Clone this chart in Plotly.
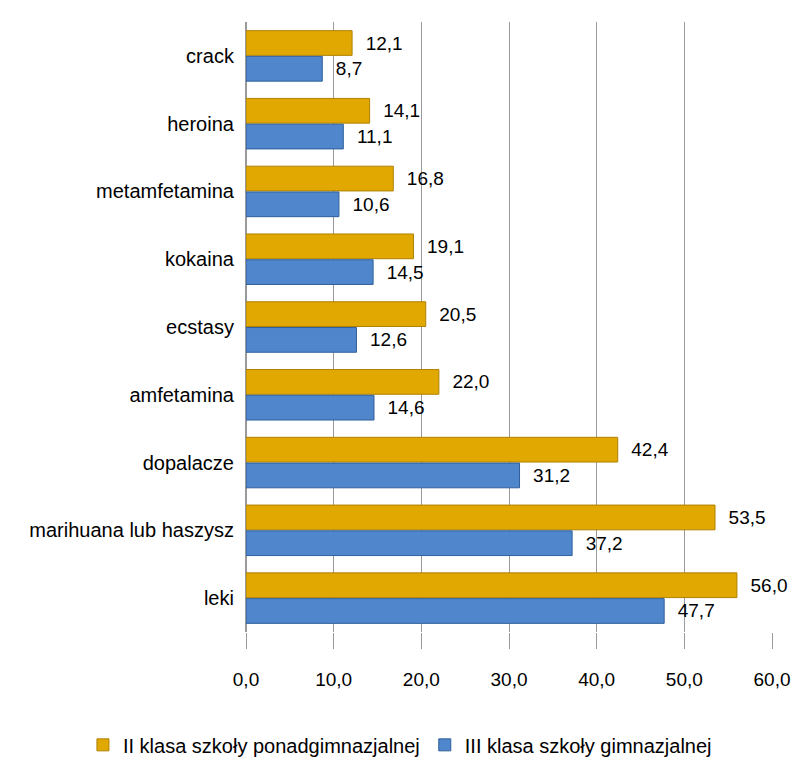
import plotly.graph_objects as go

categories = ["crack", "heroina", "metamfetamina", "kokaina", "ecstasy",
              "amfetamina", "dopalacze", "marihuana lub haszysz", "leki"]
series_names = ["II klasa szkoły ponadgimnazjalnej", "III klasa szkoły gimnazjalnej"]
values_ii = [12.1, 14.1, 16.8, 19.1, 20.5, 22.0, 42.4, 53.5, 56.0]
values_iii = [8.7, 11.1, 10.6, 14.5, 12.6, 14.6, 31.2, 37.2, 47.7]
tick_values = [0, 10, 20, 30, 40, 50, 60]

def fmt(v):
    return "\u00a0\u00a0" + f"{v:.1f}".replace(".", ",")

fig = go.Figure()
fig.add_trace(go.Bar(
    y=categories, x=values_ii, orientation="h", name=series_names[0],
    marker=dict(color="#E0A800", line=dict(color="#B08000", width=1)),
    text=[fmt(v) for v in values_ii], textposition="outside",
    textfont=dict(size=19, color="#000000"), cliponaxis=False,
))
fig.add_trace(go.Bar(
    y=categories, x=values_iii, orientation="h", name=series_names[1],
    marker=dict(color="#4F86CC", line=dict(color="#2F5F9A", width=1)),
    text=[fmt(v) for v in values_iii], textposition="outside",
    textfont=dict(size=19, color="#000000"), cliponaxis=False,
))

fig.update_layout(
    width=792, height=758,
    paper_bgcolor="white", plot_bgcolor="white",
    barmode="group", bargap=0.24, bargroupgap=0.04,
    separators=", ",
    font=dict(family="Liberation Sans, Arial, sans-serif", size=19, color="#000000"),
    margin=dict(l=246, r=20, t=22, b=126, autoexpand=False),
    showlegend=True,
    legend=dict(orientation="h", x=-0.31, xanchor="left",
                y=-0.185, yanchor="middle",
                font=dict(size=20), traceorder="normal", itemwidth=30),
    xaxis=dict(range=[0, 60], tickvals=tick_values, tickformat=".1f",
               showgrid=True, gridcolor="#9A9A9A", gridwidth=1,
               zeroline=True, zerolinecolor="#9A9A9A",
               ticks="outside", ticklen=16, tickcolor="#9A9A9A",
               ticklabelstandoff=14, automargin=False,
               tickfont=dict(size=19), showline=False),
    yaxis=dict(categoryorder="array", categoryarray=categories,
               autorange="reversed", showline=False, ticks="",
               automargin=False,
               tickfont=dict(size=20), ticksuffix="  "),
)

fig.write_html("out.html")
